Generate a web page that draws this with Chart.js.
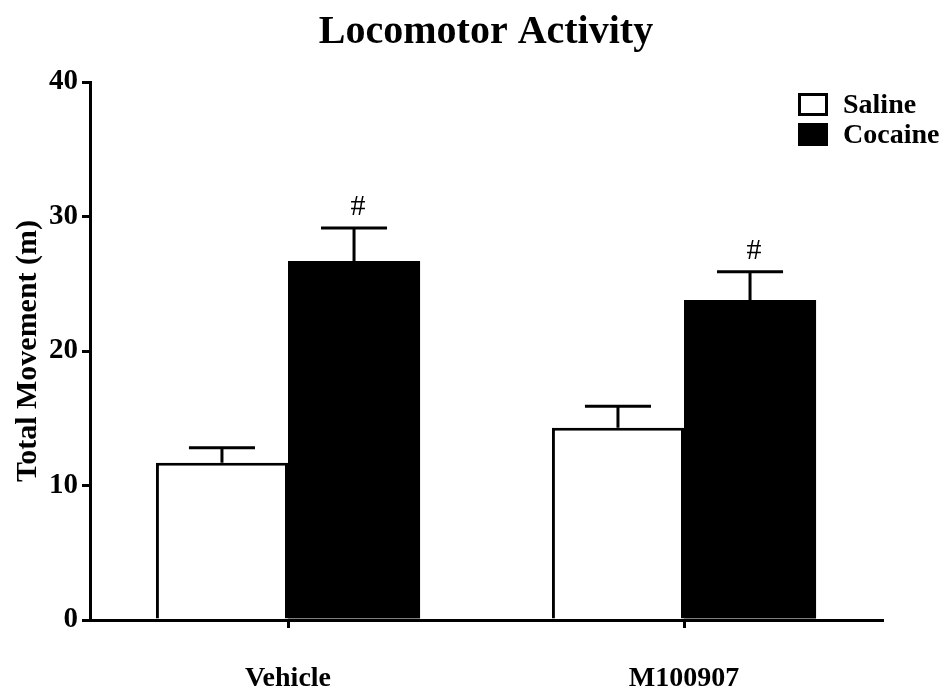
<!DOCTYPE html>
<html>
<head>
<meta charset="utf-8">
<script src="https://cdn.jsdelivr.net/npm/chart.js@4/dist/chart.umd.min.js"></script>
<style>
  html, body { margin: 0; padding: 0; background: #fff; }
  #wrap { width: 946px; height: 693px; }
</style>
</head>
<body>
<div id="wrap"><canvas id="grafico"></canvas></div>
<script>
const categories = ['Vehicle', 'M100907'];
const salineValues = [11.7, 14.3];
const salineErrors = [1.1, 1.6];
const cocaineValues = [26.7, 23.8];
const cocaineErrors = [2.45, 2.1];
const cocaineMarks = ['#', '#'];
const yTicks = [0, 10, 20, 30, 40];

const serif = "'Liberation Serif', 'Times New Roman', serif";

// error bars (upper only), significance marks, title and legend
const extras = {
    id: 'extras',
    afterDatasetsDraw(chart) {
        const ctx = chart.ctx;
        const y = chart.scales.y;
        ctx.save();
        ctx.strokeStyle = '#000';
        ctx.lineWidth = 3;
        chart.data.datasets.forEach((ds, i) => {
            const meta = chart.getDatasetMeta(i);
            meta.data.forEach((bar, j) => {
                const top = y.getPixelForValue(ds.data[j] + ds.errors[j]);
                const half = bar.width / 4;
                ctx.beginPath();
                ctx.moveTo(bar.x, bar.y);
                ctx.lineTo(bar.x, top);
                ctx.moveTo(bar.x - half, top);
                ctx.lineTo(bar.x + half, top);
                ctx.stroke();
                if (ds.marks && ds.marks[j]) {
                    ctx.fillStyle = '#000';
                    ctx.font = '30px ' + serif;
                    ctx.textAlign = 'center';
                    ctx.textBaseline = 'alphabetic';
                    ctx.fillText(ds.marks[j], bar.x + 4, top - 13);
                }
            });
        });
        ctx.restore();
    },
    afterDraw(chart) {
        const ctx = chart.ctx;
        const area = chart.chartArea;
        ctx.save();
        ctx.fillStyle = '#000';
        ctx.font = 'bold 40px ' + serif;
        ctx.textAlign = 'center';
        ctx.textBaseline = 'alphabetic';
        ctx.fillText('Locomotor Activity', 486, 43);

        ctx.font = 'bold 28px ' + serif;
        ctx.textAlign = 'left';
        chart.data.datasets.forEach((ds, i) => {
            const bx = area.right - 84;
            const by = 93 + i * 30;
            ctx.fillStyle = ds.backgroundColor;
            ctx.fillRect(bx, by, 30, 23);
            ctx.strokeStyle = '#000';
            ctx.lineWidth = 3;
            ctx.strokeRect(bx + 1.5, by + 1.5, 27, 20);
            ctx.fillStyle = '#000';
            ctx.fillText(ds.label, area.right - 39, by + 20);
        });
        ctx.restore();
    }
};

new Chart(document.getElementById('grafico'), {
    type: 'bar',
    data: {
        labels: categories,
        datasets: [
            {
                label: 'Saline',
                data: salineValues,
                errors: salineErrors,
                backgroundColor: '#ffffff',
                borderColor: '#000000',
                borderWidth: 3
            },
            {
                label: 'Cocaine',
                data: cocaineValues,
                errors: cocaineErrors,
                marks: cocaineMarks,
                backgroundColor: '#000000',
                borderColor: '#000000',
                borderWidth: 0
            }
        ]
    },
    options: {
        responsive: true,
        maintainAspectRatio: false,
        animation: false,
        categoryPercentage: 0.667,
        barPercentage: 1,
        layout: {
            padding: { top: 82, right: 64, left: 0, bottom: 0 }
        },
        plugins: {
            legend: { display: false },
            title: { display: false },
            tooltip: { enabled: false }
        },
        scales: {
            x: {
                afterFit(scale) { scale.height = 73; },
                border: { color: '#000', width: 3 },
                grid: {
                    offset: false,
                    drawOnChartArea: false,
                    drawTicks: true,
                    tickLength: 8,
                    color: '#000',
                    lineWidth: 3
                },
                ticks: {
                    color: '#000',
                    padding: 34,
                    font: { family: serif, size: 28, weight: 'bold' }
                }
            },
            y: {
                min: 0,
                max: 40,
                afterFit(scale) { scale.width = 90; },
                afterBuildTicks(scale) {
                    scale.ticks = yTicks.map(v => ({ value: v }));
                },
                border: { color: '#000', width: 3 },
                grid: {
                    drawOnChartArea: false,
                    drawTicks: true,
                    tickLength: 8,
                    color: '#000',
                    lineWidth: 3
                },
                ticks: {
                    color: '#000',
                    padding: 4,
                    font: { family: serif, size: 29, weight: 'bold' }
                },
                title: {
                    display: true,
                    text: 'Total Movement (m)',
                    color: '#000',
                    padding: { top: 10, bottom: 0 },
                    font: { family: serif, size: 30, weight: 'bold' }
                }
            }
        }
    },
    plugins: [extras]
});
</script>
</body>
</html>
